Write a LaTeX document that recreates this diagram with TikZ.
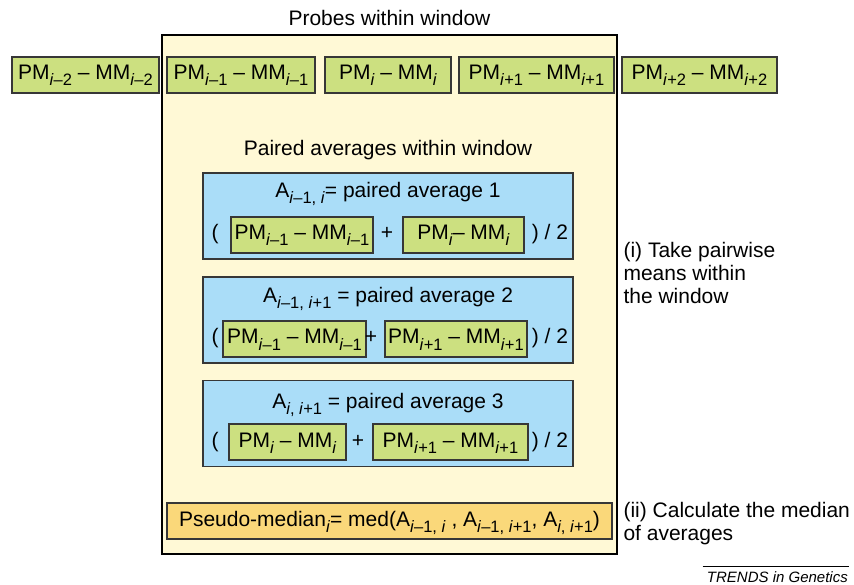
\documentclass[tikz,border=0pt]{standalone}
\usepackage{fontspec}
\setmainfont{Liberation Sans}

\definecolor{windowfill}{RGB}{255,249,214}
\definecolor{probegreen}{RGB}{204,224,128}
\definecolor{pairblue}{RGB}{170,221,248}
\definecolor{medianfill}{RGB}{250,216,122}
\definecolor{boxline}{RGB}{55,55,55}

\newcommand\idx{\textit{i}}
\newcommand\lo[1]{\raisebox{-6pt}{\fontsize{16.5}{16}\selectfont #1}}
\newcommand\pmm[1]{PM\lo{#1} -- MM\lo{#1}}

\begin{document}
\begin{tikzpicture}[x=1pt,y=-1pt,
    every node/.style={font=\fontsize{21}{23}\selectfont},
    sym/.style={text height=15pt,text depth=5pt,inner sep=1pt},
    probe/.style={sym,draw=boxline,fill=probegreen,line width=1.2pt,minimum height=36pt,inner sep=2pt},
    pairbox/.style={draw=boxline,fill=pairblue,line width=1.2pt,minimum width=370pt,minimum height=86pt,inner sep=0pt}]
    \useasboundingbox[fill=white] (0,0) rectangle (854,585);

    % the window with its probes
    \node[draw=black,fill=windowfill,line width=1.2pt,minimum width=455pt,minimum height=519pt,inner sep=0pt] (window) at (389.5,294.5) {};
    \node (probes) at (389.5,18) {Probes within window};

    \node[probe,minimum width=147pt] (p-2) at (85.5,75) {\pmm{\idx--2}};
    \node[probe,minimum width=148pt] (p-1) at (241,75) {\pmm{\idx--1}};
    \node[probe,minimum width=126pt] (p0) at (388,75) {\pmm{\idx}};
    \node[probe,minimum width=155pt] (p+1) at (536.5,75) {\pmm{\idx+1}};
    \node[probe,minimum width=155pt] (p+2) at (699.5,75) {\pmm{\idx+2}};

    \node (paired) at (388,150) {Paired averages within window};

    % paired average 1
    \node[pairbox] (avg1) at (388,216) {};
    \node[sym] (avg1title) at (388,193) {A\lo{\idx--1, \idx}= paired average 1};
    \node[sym] (avg1open) at (215,235) {(};
    \node[probe,minimum width=142pt] (avg1a) at (302,235) {\pmm{\idx--1}};
    \node[sym] (avg1plus) at (387,235) {+};
    \node[probe,minimum width=121pt] (avg1b) at (463.5,235) {PM\lo{\idx}-- MM\lo{\idx}};
    \node[sym] (avg1close) at (550,235) {) / 2};

    % paired average 2
    \node[pairbox] (avg2) at (388,320) {};
    \node[sym] (avg2title) at (388,297) {A\lo{\idx--1, \idx+1} = paired average 2};
    \node[sym] (avg2open) at (215,339) {(};
    \node[probe,minimum width=143pt] (avg2a) at (294.5,339) {\pmm{\idx--1}};
    \node[sym] (avg2plus) at (371,339) {+};
    \node[probe,minimum width=142pt] (avg2b) at (456,339) {\pmm{\idx+1}};
    \node[sym] (avg2close) at (550,339) {) / 2};

    % paired average 3
    \node[pairbox] (avg3) at (388,423.5) {};
    \node[sym] (avg3title) at (388,403) {A\lo{\idx, \idx+1} = paired average 3};
    \node[sym] (avg3open) at (215,442) {(};
    \node[probe,minimum width=117pt] (avg3a) at (287.5,442) {\pmm{\idx}};
    \node[sym] (avg3plus) at (358,442) {+};
    \node[probe,minimum width=155pt] (avg3b) at (450.5,442) {\pmm{\idx+1}};
    \node[sym] (avg3close) at (550,442) {) / 2};

    % median of the three averages
    \node[probe,fill=medianfill,minimum width=445pt] (pseudo) at (389.5,521)
        {Pseudo-median\lo{\idx}= med(A\lo{\idx--1, \idx} , A\lo{\idx--1, \idx+1}, A\lo{\idx, \idx+1})};

    \node[anchor=west,align=left] (takemeans) at (620,273) {(i) Take pairwise\\means within\\the window};
    \node[anchor=west,align=left] (calcmedian) at (620,524) {(ii) Calculate the median\\of averages};

    \node[anchor=east,inner sep=1pt,font=\fontsize{15}{17}\selectfont\itshape] (journal) at (849,577) {TRENDS in Genetics};
    \draw[line width=0.6pt] ([xshift=-3pt,yshift=4pt]journal.north west) -- ([yshift=4pt]journal.north east);
\end{tikzpicture}
\end{document}
